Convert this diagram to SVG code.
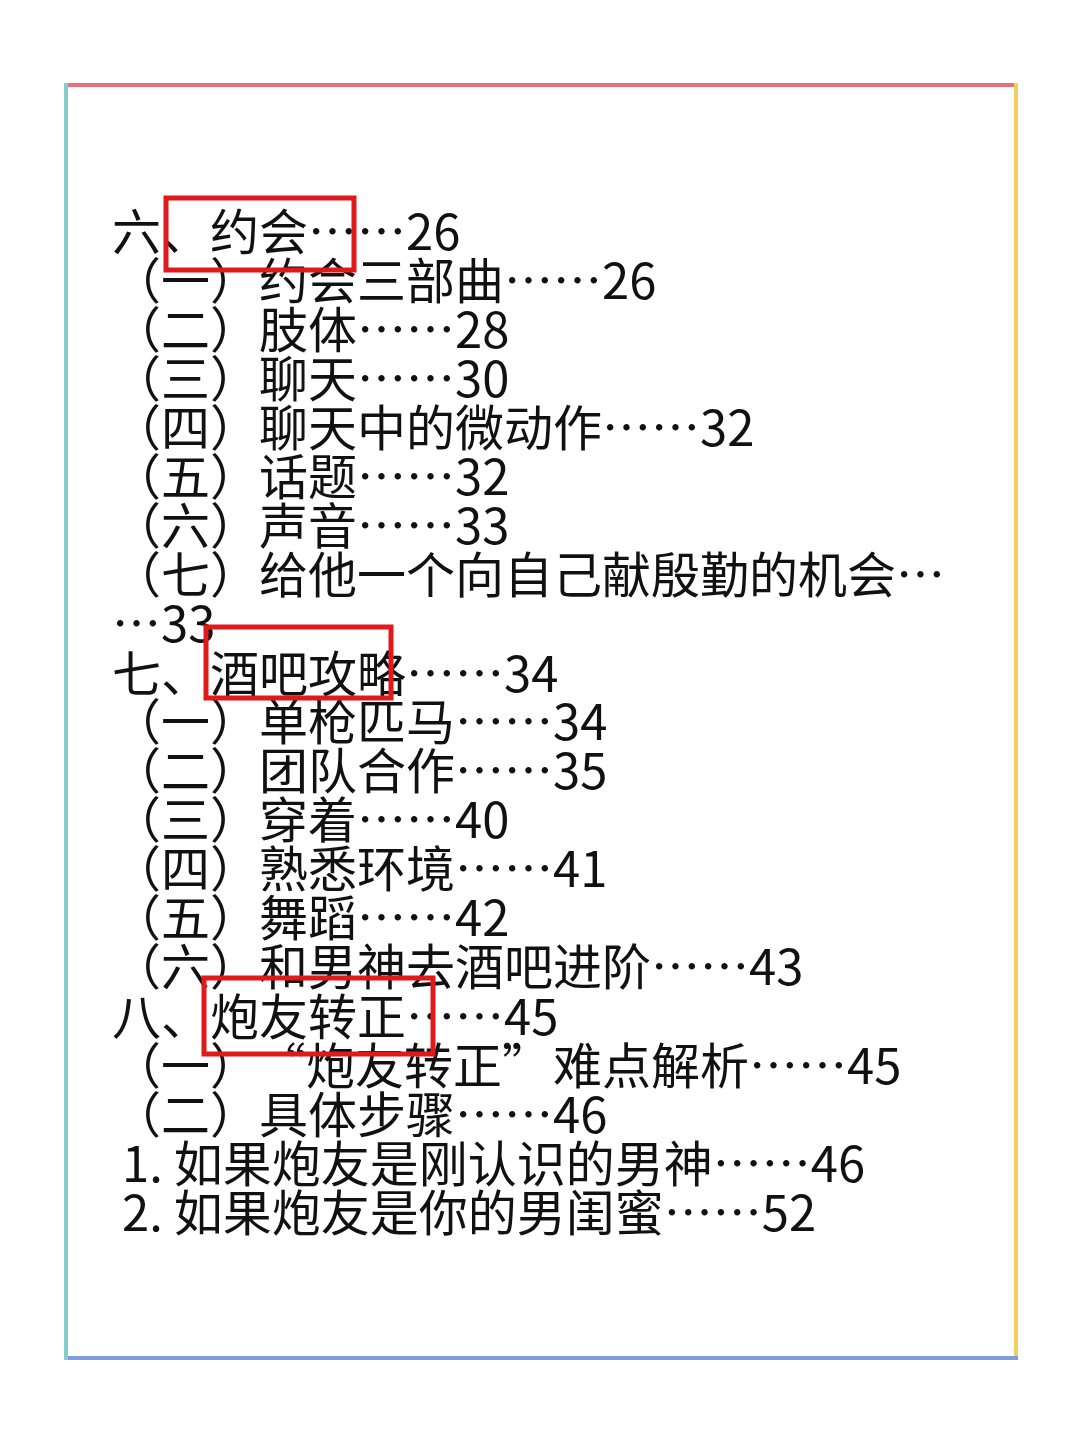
<svg xmlns="http://www.w3.org/2000/svg" width="1080" height="1444" viewBox="0 0 1080 1444">
<style>
text{font-family:"Noto Sans CJK SC","Noto Sans",sans-serif;font-size:49px;fill:#111;}
.box{fill:none;stroke:#e0191b;stroke-width:5;}
</style>
<rect width="1080" height="1444" fill="#fff"/>
<g id="border" stroke-width="4" stroke-linecap="square">
<line x1="66" y1="85" x2="1016" y2="85" stroke="#e8707e"/>
<line x1="1016" y1="85" x2="1016" y2="1358" stroke="#f2cf5a"/>
<line x1="66" y1="1358" x2="1016" y2="1358" stroke="#7e9ee0"/>
<line x1="66" y1="85" x2="66" y2="1358" stroke="#86cccb"/>
</g>
<g id="lines">
<text x="112" y="250">六、约会……26</text>
<text x="112" y="299">（一）约会三部曲……26</text>
<text x="112" y="348">（二）肢体……28</text>
<text x="112" y="397">（三）聊天……30</text>
<text x="112" y="446">（四）聊天中的微动作……32</text>
<text x="112" y="495">（五）话题……32</text>
<text x="112" y="544">（六）声音……33</text>
<text x="112" y="593">（七）给他一个向自己献殷勤的机会…</text>
<text x="112" y="642">…33</text>
<text x="112" y="692">七、酒吧攻略……34</text>
<text x="112" y="740">（一）单枪匹马……34</text>
<text x="112" y="789">（二）团队合作……35</text>
<text x="112" y="838">（三）穿着……40</text>
<text x="112" y="887">（四）熟悉环境……41</text>
<text x="112" y="936">（五）舞蹈……42</text>
<text x="112" y="985">（六）和男神去酒吧进阶……43</text>
<text x="112" y="1035">八、炮友转正……45</text>
<text x="112" y="1084">（一）<tspan x="257">“炮友转正”</tspan><tspan x="553">难点解析……45</tspan></text>
<text x="112" y="1133">（二）具体步骤……46</text>
<text x="122" y="1182">1. 如果炮友是刚认识的男神……46</text>
<text x="122" y="1231">2. 如果炮友是你的男闺蜜……52</text>
</g>
<g id="highlights">
<rect class="box" x="166" y="198" width="188" height="72"/>
<rect class="box" x="206" y="627" width="185" height="71"/>
<rect class="box" x="204" y="978" width="229" height="76"/>
</g>
</svg>
